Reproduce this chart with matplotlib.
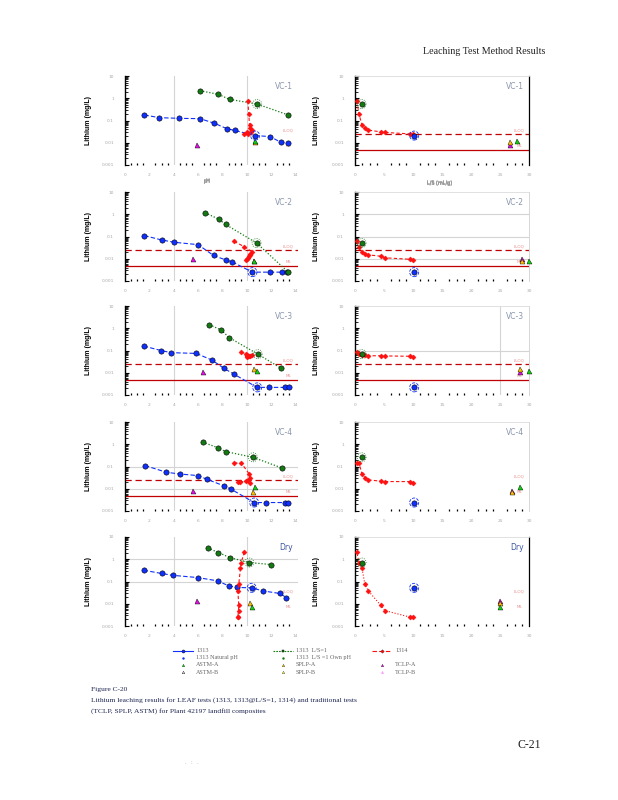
import matplotlib
matplotlib.use('Agg')
import matplotlib.pyplot as plt
import numpy as np
from matplotlib.ticker import LogLocator, NullFormatter, FixedLocator, FuncFormatter, MultipleLocator
from matplotlib.lines import Line2D

W, H = 618, 800

# ---------------- data ----------------
PANELS = ['VC-1', 'VC-2', 'VC-3', 'VC-4', 'Dry']
LLOQ = 0.024
ML = 0.0047
LS_1314 = [0.3, 0.7, 1.2, 1.7, 2.3, 4.4, 5.2, 9.5, 10.0]
LS_1313_NAT = 10.2
LS_1313_LS1 = 1.15

VC1_1313_PH = [1.59, 2.82, 4.47, 6.16, 7.34, 8.36, 8.99, 10.68, 11.9, 12.8, 13.4]
VC1_1313_LI = [0.177, 0.134, 0.125, 0.121, 0.075, 0.043, 0.036, 0.021, 0.019, 0.0104, 0.0093]
VC1_LS1_PH = [6.16, 7.67, 8.58, 10.85, 13.4]
VC1_LS1_LI = [2.19, 1.5, 0.89, 0.55, 0.177]
VC1_1314_PH = [10.08, 10.16, 10.22, 10.3, 10.4, 10.35, 10.0, 9.75, 10.1]
VC1_1314_LI = [0.75, 0.19, 0.063, 0.045, 0.037, 0.031, 0.029, 0.025, 0.025]
VC1_TRAD_PH = [5.9, 10.7, 10.7]          # TCLP, SPLP, ASTM
VC1_TRAD_LS = [26.7, 26.8, 27.9]
VC1_TRAD_LI = [0.0079, 0.011, 0.012]

VC2_1313_PH = [1.58, 3.0, 4.04, 6.0, 7.27, 8.3, 8.8, 10.46, 11.9, 12.9, 13.3]
VC2_1313_LI = [0.11, 0.070, 0.055, 0.043, 0.014, 0.0087, 0.0072, 0.0025, 0.0025, 0.0025, 0.0025]
VC2_LS1_PH = [6.58, 7.7, 8.25, 10.8, 13.4]
VC2_LS1_LI = [1.16, 0.60, 0.35, 0.051, 0.0025]
VC2_1314_PH = [8.96, 9.78, 10.4, 10.3, 10.25, 10.2, 10.1, 10.0, 9.9]
VC2_1314_LI = [0.060, 0.035, 0.021, 0.017, 0.015, 0.013, 0.011, 0.0095, 0.0085]
VC2_TRAD_PH = [5.55, 10.6, 10.6]
VC2_TRAD_LS = [28.8, 28.8, 30.0]
VC2_TRAD_LI = [0.010, 0.0082, 0.0076]

VC3_1313_PH = [1.53, 2.96, 3.78, 5.84, 7.15, 8.1, 8.93, 10.85, 11.8, 13.1, 13.45]
VC3_1313_LI = [0.158, 0.10, 0.080, 0.074, 0.037, 0.016, 0.0087, 0.0022, 0.0022, 0.0022, 0.0022]
VC3_LS1_PH = [6.93, 7.9, 8.55, 10.9, 12.8]
VC3_LS1_LI = [1.45, 0.83, 0.38, 0.069, 0.016]
VC3_1314_PH = [9.53, 9.95, 10.0, 10.4, 10.2, 10.3, 10.1, 10.05, 10.0]
VC3_1314_LI = [0.085, 0.070, 0.065, 0.060, 0.058, 0.058, 0.057, 0.055, 0.052]
VC3_TRAD_PH = [6.4, 10.6, 10.8]
VC3_TRAD_LS = [28.5, 28.5, 30.0]
VC3_TRAD_LI = [0.011, 0.014, 0.012]

VC4_1313_PH = [1.64, 3.4, 4.5, 6.0, 6.7, 8.1, 8.7, 10.6, 11.6, 13.1, 13.4]
VC4_1313_LI = [0.11, 0.055, 0.046, 0.039, 0.027, 0.0136, 0.0096, 0.0024, 0.0024, 0.0024, 0.0024]
VC4_LS1_PH = [6.37, 7.65, 8.25, 10.5, 12.9]
VC4_LS1_LI = [1.24, 0.69, 0.47, 0.26, 0.085]
VC4_1314_PH = [8.96, 9.56, 10.2, 10.25, 10.1, 9.9, 9.3, 9.45, 10.3]
VC4_1314_LI = [0.145, 0.14, 0.046, 0.032, 0.025, 0.022, 0.021, 0.021, 0.019]
VC4_TRAD_PH = [5.6, 10.5, 10.7]
VC4_TRAD_LS = [27.0, 27.0, 28.5]
VC4_TRAD_LI = [0.0076, 0.0073, 0.0126]

DRY_1313_PH = [1.53, 3.0, 3.9, 5.97, 7.6, 8.5, 9.2, 10.4, 11.3, 12.7, 13.25]
DRY_1313_LI = [0.32, 0.23, 0.19, 0.15, 0.107, 0.064, 0.054, 0.052, 0.038, 0.029, 0.019]
DRY_LS1_PH = [6.8, 7.67, 8.6, 10.2, 11.97]
DRY_LS1_LI = [3.2, 2.0, 1.19, 0.71, 0.58]
DRY_1314_PH = [9.8, 9.53, 9.48, 9.34, 9.26, 9.34, 9.32, 9.26, 9.3]
DRY_1314_LI = [2.1, 0.71, 0.41, 0.076, 0.038, 0.0087, 0.0049, 0.0025, 0.0025]
DRY_TRAD_PH = [5.9, 10.3, 10.4]
DRY_TRAD_LS = [25.0, 25.0, 25.0]
DRY_TRAD_LI = [0.013, 0.0103, 0.0075]

NAT_INDEX_1313 = 7
NAT_INDEX_LS1 = 3

PH_TICKS = [0, 2, 4, 6, 8, 10, 12, 14]
LS_TICKS = [0, 5, 10, 15, 20, 25, 30]
Y_TICKS = [0.001, 0.01, 0.1, 1, 10]
Y_LABELS = ['0.001', '0.01', '0.1', '1', '10']

DATA = {
    'VC-1': (VC1_1313_PH, VC1_1313_LI, VC1_LS1_PH, VC1_LS1_LI, VC1_1314_PH, VC1_1314_LI, VC1_TRAD_PH, VC1_TRAD_LS, VC1_TRAD_LI),
    'VC-2': (VC2_1313_PH, VC2_1313_LI, VC2_LS1_PH, VC2_LS1_LI, VC2_1314_PH, VC2_1314_LI, VC2_TRAD_PH, VC2_TRAD_LS, VC2_TRAD_LI),
    'VC-3': (VC3_1313_PH, VC3_1313_LI, VC3_LS1_PH, VC3_LS1_LI, VC3_1314_PH, VC3_1314_LI, VC3_TRAD_PH, VC3_TRAD_LS, VC3_TRAD_LI),
    'VC-4': (VC4_1313_PH, VC4_1313_LI, VC4_LS1_PH, VC4_LS1_LI, VC4_1314_PH, VC4_1314_LI, VC4_TRAD_PH, VC4_TRAD_LS, VC4_TRAD_LI),
    'Dry': (DRY_1313_PH, DRY_1313_LI, DRY_LS1_PH, DRY_LS1_LI, DRY_1314_PH, DRY_1314_LI, DRY_TRAD_PH, DRY_TRAD_LS, DRY_TRAD_LI),
}

# ---------------- style ----------------
BLUE = '#1030ff'
GREEN = '#137a13'
RED = '#ff1010'
DKRED = '#c00000'
TCLP_C = '#e010e0'
SPLP_C = '#ffc000'
ASTM_C = '#10d010'
TICKC = '#a8a8a8'
TRAD_COLORS = [TCLP_C, SPLP_C, ASTM_C]

# per panel style: (left lines, right lines, left hgrid, right hgrid, right vgrid, right-spine colour)
STYLE = {
    'VC-1': (False, True, [], [], [], 'black'),
    'VC-2': (True, True, [], [1, 0.1, 0.01], [], '#d0d0d0'),
    'VC-3': (True, True, [], [0.1], [25], '#d0d0d0'),
    'VC-4': (True, False, [0.1, 0.01], [], [], '#d0d0d0'),
    'Dry': (False, False, [1, 0.1], [], [], 'black'),
}

ROW_TOPS = [76, 192, 306, 422, 537]
AX_H = 89
LX, LW = 125, 173
RX, RW = 355, 174

plt.rcParams['font.family'] = ['DejaVu Sans']
fig = plt.figure(figsize=(W / 100, H / 100), dpi=100)


def rect(x, y, w, h):
    return [x / W, 1 - (y + h) / H, w / W, h / H]


def base_style(ax, right_panel, rspine):
    ax.set_yscale('log')
    ax.set_ylim(1e-3, 10)
    ax.yaxis.set_major_locator(FixedLocator(Y_TICKS))
    ax.yaxis.set_major_formatter(FuncFormatter(lambda v, p: Y_LABELS[Y_TICKS.index(v)] if v in Y_TICKS else ''))
    ax.yaxis.set_minor_locator(LogLocator(base=10, subs=np.arange(2, 10)))
    ax.yaxis.set_minor_formatter(NullFormatter())
    ax.tick_params(axis='y', which='major', direction='in', length=3, width=0.8,
                   labelsize=3.2, labelcolor=TICKC, pad=8)
    ax.tick_params(axis='y', which='minor', direction='in', length=1.8, width=0.6)
    ax.tick_params(axis='x', which='major', direction='in', length=0, labelsize=3.2,
                   labelcolor=TICKC, pad=6)
    ax.tick_params(axis='x', which='minor', direction='in', length=1.2, width=0.9)
    ax.spines['left'].set_linewidth(1.0)
    ax.spines['bottom'].set_visible(False)
    if right_panel:
        ax.spines['top'].set_color('#dcdcdc')
        ax.spines['top'].set_linewidth(0.6)
        ax.spines['right'].set_color(rspine)
        ax.spines['right'].set_linewidth(0.9 if rspine == 'black' else 0.6)
    else:
        ax.spines['top'].set_visible(False)
        ax.spines['right'].set_visible(False)
    ax.set_ylabel('Lithium (mg/L)', fontsize=5, fontweight='bold', family=['Liberation Sans', 'DejaVu Sans'])
    ax.yaxis.set_label_coords(-33 / LW, 0.5)


def ring(ax, x, y, color, ls):
    ax.scatter([x], [y], s=42, facecolors='none', edgecolors=color, linewidths=0.6,
               linestyle=ls, zorder=6)


for i, name in enumerate(PANELS):
    top = ROW_TOPS[i]
    p13, l13, pls, lls, p14, l14, tph, tls, tli = DATA[name]
    lline, rline, lh, rh, rv, rsp = STYLE[name]
    ls_nat_li = l13[NAT_INDEX_1313]
    ls1_nat_li = lls[NAT_INDEX_LS1]

    # ---------- left (pH) ----------
    ax = fig.add_axes(rect(LX, top, LW, AX_H))
    base_style(ax, False, rsp)
    ax.set_xlim(0, 14.2)
    ax.set_xticks(PH_TICKS)
    ax.xaxis.set_minor_locator(MultipleLocator(0.5))
    for gx in [4, 10]:
        ax.axvline(gx, color='#d4d4d4', lw=0.8, zorder=0)
    for gy in lh:
        ax.axhline(gy, color='#d4d4d4', lw=0.8, zorder=0)
    if lline:
        ax.axhline(LLOQ, color=DKRED, lw=0.9, ls=(0, (5, 3)), zorder=1)
        ax.axhline(ML, color=DKRED, lw=0.9, zorder=1)
    ax.text(13.4, LLOQ * 1.55, 'LLOQ', fontsize=3, color='#e89090', ha='center', va='center')
    ax.text(13.4, ML * 1.55, 'ML', fontsize=3, color='#e89090', ha='center', va='center')

    ax.plot(p13, l13, ls=(0, (4, 2)), color=BLUE, lw=0.8, marker='o', ms=3.8,
            mfc=BLUE, mec='black', mew=0.4, zorder=3)
    ring(ax, p13[NAT_INDEX_1313], ls_nat_li, BLUE, '--')
    ax.plot(pls, lls, ls=(0, (1, 1.5)), color=GREEN, lw=0.9, marker='o', ms=3.8,
            mfc=GREEN, mec='black', mew=0.4, zorder=3)
    ring(ax, pls[NAT_INDEX_LS1], ls1_nat_li, GREEN, ':')
    ax.plot(p14, l14, ls=(0, (3, 2)), color=RED, lw=0.8, marker='D', ms=2.6,
            mfc=RED, mec=RED, mew=0.3, zorder=4)
    for x, y, c in zip(tph, tli, TRAD_COLORS):
        ax.plot([x], [y], marker='^', ms=3.6, color=c, mec='black', mew=0.3, ls='none', zorder=5)
    ax.text(0.97, 0.93, name, transform=ax.transAxes, ha='right', va='top',
            fontsize=5.5, color='#3a55a0' if name == 'Dry' else '#8a96ac')
    ax.text((207 - LX) / LW, -(181 - top - AX_H) / AX_H, 'pH', transform=ax.transAxes,
            ha='center', va='center', fontsize=3.5, color='#999999')

    # ---------- right (L/S) ----------
    ax = fig.add_axes(rect(RX, top, RW, AX_H))
    base_style(ax, True, rsp)
    ax.yaxis.set_label_coords(-35 / RW, 0.5)
    ax.set_xlim(0, 30)
    ax.set_xticks(LS_TICKS)
    ax.xaxis.set_minor_locator(MultipleLocator(1.25))
    for gy in rh:
        ax.axhline(gy, color='#d4d4d4', lw=0.8, zorder=0)
    for gx in rv:
        ax.axvline(gx, color='#d4d4d4', lw=0.8, zorder=0)
    if rline:
        ax.axhline(LLOQ, color=DKRED, lw=0.9, ls=(0, (5, 3)), zorder=1)
        ax.axhline(ML, color=DKRED, lw=0.9, zorder=1)
    ax.text(28.3, LLOQ * 1.55, 'LLOQ', fontsize=3, color='#e89090', ha='center', va='center')
    ax.text(28.3, ML * 1.55, 'ML', fontsize=3, color='#e89090', ha='center', va='center')

    ax.plot(LS_1314, l14, ls=(':' if name == 'Dry' else (0, (3, 2))), color=RED, lw=0.8,
            marker='D', ms=2.6, mfc=RED, mec=RED, mew=0.3, zorder=4)
    ax.plot([LS_1313_LS1], [ls1_nat_li], marker='o', ms=3.8, color=GREEN, mec='black', mew=0.4, zorder=5)
    ring(ax, LS_1313_LS1, ls1_nat_li, GREEN, ':')
    ax.plot([LS_1313_NAT], [ls_nat_li], marker='o', ms=3.8, color=BLUE, mec='black', mew=0.4, zorder=5)
    ring(ax, LS_1313_NAT, ls_nat_li, BLUE, '--')
    for x, y, c in zip(tls, tli, TRAD_COLORS):
        ax.plot([x], [y], marker='^', ms=3.6, color=c, mec='black', mew=0.3, ls='none',
                zorder=5, clip_on=False)
    ax.text(0.97, 0.93, name, transform=ax.transAxes, ha='right', va='top',
            fontsize=5.5, color='#3a55a0' if name == 'Dry' else '#8a96ac')
    ax.text((440 - RX) / RW, -(183 - top - AX_H) / AX_H, 'L/S (mL/g)', transform=ax.transAxes,
            ha='center', va='center', fontsize=3.5, color='#999999')

# ---------------- legend (manual) ----------------
lg = fig.add_axes([0, 0, 1, 1])
lg.set_xlim(0, W)
lg.set_ylim(H, 0)
lg.axis('off')
serif = ['Liberation Serif', 'DejaVu Serif']
rows_y = [651, 658, 665, 672]
entries = [
    (173, 0, dict(ls='-', color=BLUE, lw=0.8, marker='o', ms=2.2, mfc=BLUE, mec='black', mew=0.3), '1313'),
    (173, 1, dict(ls='none', color=BLUE, marker='.', ms=1.5), '1313 Natural pH'),
    (173, 2, dict(ls='none', color=ASTM_C, marker='^', ms=1.8, mec='black', mew=0.2), 'ASTM-A'),
    (173, 3, dict(ls='none', color='white', marker='^', ms=1.8, mec='black', mew=0.3), 'ASTM-B'),
    (273, 0, dict(ls=(0, (1.5, 1)), color=GREEN, lw=0.8, marker='s', ms=2.0, mfc=GREEN, mec='black', mew=0.3), '1313  L/S=1'),
    (273, 1, dict(ls='none', color=GREEN, marker='.', ms=1.5), '1313  L/S =1 Own pH'),
    (273, 2, dict(ls='none', color=SPLP_C, marker='^', ms=1.8, mec='black', mew=0.2), 'SPLP-A'),
    (273, 3, dict(ls='none', color='#ffff40', marker='^', ms=1.8, mec='black', mew=0.2), 'SPLP-B'),
    (372, 0, dict(ls=(0, (4, 2)), color=RED, lw=0.8, marker='D', ms=1.8, mfc=RED, mec='black', mew=0.2), '1314'),
    (372, 2, dict(ls='none', color=TCLP_C, marker='^', ms=1.8, mec='black', mew=0.2), 'TCLP-A'),
    (372, 3, dict(ls='none', color='#ff99ff', marker='^', ms=1.8, mec='#ff99ff', mew=0.2), 'TCLP-B'),
]
for x0, r, kw, label in entries:
    y = rows_y[r]
    lg.add_line(Line2D([x0, x0 + 10, x0 + 20], [y, y, y], markevery=[1], **kw))
    lg.text(x0 + 23, y, label, fontsize=4.4, family=serif, color='#666666', va='center', ha='left')

# ---------------- page texts ----------------
fig.text(545 / W, 1 - 51 / H, 'Leaching Test Method Results', ha='right', va='center',
         fontsize=7.2, family=serif, color='#222222')
cap_c = '#1c2450'
fig.text(91 / W, 1 - 690 / H, 'Figure C-20', ha='left', va='center', fontsize=5.4, family=serif, color=cap_c)
fig.text(91 / W, 1 - 700 / H,
         'Lithium leaching results for LEAF tests (1313, 1313@L/S=1, 1314) and traditional tests',
         ha='left', va='center', fontsize=5.4, family=serif, color=cap_c)
fig.text(91 / W, 1 - 711 / H, '(TCLP, SPLP, ASTM) for Plant 42197 landfill composites',
         ha='left', va='center', fontsize=5.4, family=serif, color=cap_c)
fig.text(541 / W, 1 - 745 / H, 'C-21', ha='right', va='center', fontsize=8.5, family=serif, color='#222222')
fig.text(192 / W, 1 - 762 / H, '.   :   .', ha='center', va='center', fontsize=3.5, color='#999999')

fig.savefig('out.png', dpi=100)
